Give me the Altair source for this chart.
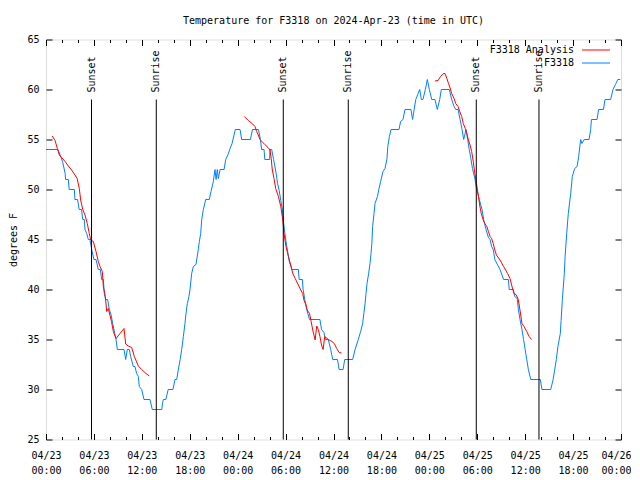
import json
import altair as alt
import pandas as pd

# ---------------- data ----------------
blue_hours = [0.0, 1.5, 1.85, 2.1, 2.4, 2.45, 2.8, 2.9, 3.55, 3.62, 3.95, 4.15, 4.45, 4.6, 4.8, 4.88, 5.1, 5.3, 5.5, 5.72,
              6.0, 6.26, 6.55, 6.8, 6.97, 7.18, 7.3, 7.47, 7.72, 7.93, 8.14, 8.35, 8.64, 8.77, 8.93, 9.77, 9.98, 10.18, 10.43, 10.6,
              10.93, 11.14, 11.35, 11.56, 11.68, 11.98, 12.27, 13.02, 13.31, 14.5, 14.6, 14.7, 15.0, 15.3, 15.9, 16.15, 16.37, 16.57, 16.8, 16.99,
              17.2, 17.4, 17.53, 17.7, 17.9, 18.03, 18.24, 18.45, 18.78, 19.07, 19.2, 19.37, 19.5, 19.7, 20.0, 20.45, 20.66, 20.95, 21.16, 21.3,
              21.45, 21.58, 21.8, 22.3, 22.5, 22.8, 23.0, 23.3, 23.7, 24.3, 24.5, 25.6, 25.85, 26.6, 26.85, 27.0, 27.3, 27.4, 28.0, 28.05,
              28.26, 28.5, 28.8, 29.0, 29.2, 29.4, 29.6, 29.7, 29.9, 30.05, 30.26, 30.47, 30.8, 31.6, 31.7, 32.1, 32.2, 32.4, 32.65, 33.0,
              34.3, 34.5, 34.8, 35.0, 35.35, 35.65, 35.9, 36.5, 36.7, 37.2, 37.4, 38.4, 38.7, 39.1, 39.4, 39.65, 39.8, 39.95, 40.07, 40.2,
              40.4, 40.57, 40.7, 40.8, 40.9, 41.07, 41.2, 41.5, 41.7, 41.9, 42.2, 42.45, 42.7, 42.8, 43.0, 43.2, 44.2, 44.4, 44.7, 44.95,
              45.7, 45.9, 46.1, 46.3, 46.6, 46.8, 47.0, 47.2, 47.5, 47.75, 48.0, 48.3, 48.7, 49.0, 49.3, 49.5, 50.5, 50.8, 51.1, 51.3,
              51.6, 51.85, 52.1, 52.3, 52.6, 52.8, 53.0, 53.2, 53.4, 53.7, 53.9, 54.26, 54.6, 54.8, 55.1, 55.4, 55.6, 55.8, 56.0, 56.2,
              56.85, 57.3, 57.9, 58.0, 58.5, 58.7, 59.0, 59.15, 59.35, 59.6, 59.8, 60.0, 60.2, 60.4, 60.7, 61.9, 62.1, 63.2, 63.5, 63.7,
              63.9, 64.1, 64.4, 64.5, 64.65, 64.9, 65.0, 65.2, 65.4, 65.7, 65.9, 66.2, 66.5, 66.7, 66.95, 67.1, 67.4, 68.0, 68.2, 68.3,
              69.0, 69.2, 69.8, 70.0, 70.7, 71.0, 71.3, 71.6, 71.9]
blue_temps = [54, 54, 53.3, 52.7, 51.6, 51, 51, 50, 50, 49, 49, 48, 48, 47, 47, 46, 45.6, 45, 45, 44,
              43, 43, 42, 42, 41, 41, 39.6, 39, 39, 38, 37.5, 36.6, 35.5, 35, 34, 34, 33, 34, 34, 33.3,
              32.3, 32.3, 31.6, 31.3, 30.3, 30, 29, 29, 28, 28, 28.7, 29, 29, 30, 30, 31, 31, 32, 33, 34,
              35.3, 36.6, 37.6, 38.6, 39.3, 40, 41.6, 42.3, 42.5, 44, 44.8, 45.6, 47, 48, 49, 49, 49.8, 50.8, 52, 51,
              52, 51.1, 52, 52, 53, 53.5, 54, 54.6, 56, 56, 55, 55, 56, 56, 55, 54, 54, 53, 53, 54,
              54, 53, 51.7, 50.6, 49.9, 48.9, 48, 47, 45.7, 44.8, 43.8, 42.8, 42, 42, 41, 41, 40, 39, 38, 37,
              37, 36, 35.7, 35, 35, 34, 33, 33, 32, 32, 33, 33, 34, 35, 35.8, 36.6, 37.6, 38.6, 39.6, 40.6,
              41.6, 42.6, 43.6, 44.6, 46.3, 47.6, 48.6, 49.3, 50.1, 50.8, 51.8, 52.1, 53.1, 54.3, 55.3, 56, 56, 56.8, 57, 58,
              58, 57, 58, 59, 59.6, 60, 59, 59, 60, 61, 60, 59, 59, 58, 59, 60, 60, 59, 58.3, 58,
              58, 57, 56, 55, 56, 55, 54, 53.1, 52.1, 51.1, 50.1, 49, 48, 47, 46, 45.2, 45, 44.3, 44, 43,
              42, 41, 41, 40, 40, 39.3, 39.1, 38, 37, 36, 35, 34, 33, 32, 31, 31, 30, 30, 31, 32,
              33, 34.3, 35.6, 36.9, 38.9, 41.6, 43.3, 45.6, 47.6, 49.6, 51.3, 52.1, 52.3, 53.3, 55, 54.6, 55, 55, 56, 57,
              57, 58, 58, 59, 59, 60, 60.5, 61, 61]

red1_hours = [0.79, 1.13, 1.42, 1.67, 1.96, 2.38, 2.8, 3.2, 3.63, 3.9, 4.17, 4.34, 4.6, 4.88, 5.17, 5.42, 5.6, 5.93, 6.26, 6.55,
              6.76, 7.05, 7.18, 7.43, 7.6, 7.8, 8.0, 8.2, 8.43, 8.77, 9.27, 9.77, 9.98, 10.3, 10.73, 11.06, 11.56, 11.98, 12.52, 12.94]
red1_temps = [55.35, 54.9, 54.1, 53.45, 53.2, 52.8, 52.35, 51.95, 51.45, 51.1, 50.1, 48.95, 48.0, 47.45, 46.6, 45.6, 44.95, 44.8, 43.8, 42.8,
              42.3, 41.8, 40.3, 39.3, 37.8, 38.1, 37.45, 36.8, 35.8, 35.1, 35.6, 36.1, 34.55, 34.35, 34.2, 33.3, 32.35, 32.0, 31.6, 31.35]
red2_hours = [24.83, 25.33, 25.88, 26.17, 26.38, 26.58, 26.8, 27.4, 27.8, 28.05, 28.2, 28.34, 28.55, 28.76, 29.1, 29.4, 29.65, 29.8, 30.05, 30.35,
              30.64, 30.9, 31.2, 31.6, 31.9, 32.14, 32.3, 32.56, 32.7, 33.0, 33.2, 33.4, 33.7, 33.9, 34.1, 34.3, 34.5, 34.7, 34.9, 35.35,
              35.8, 36.1, 36.4, 36.7, 37.0]
red2_temps = [57.3, 56.9, 56.55, 56.3, 55.8, 55.45, 55.0, 54.5, 54.2, 53.95, 53.1, 51.95, 51.1, 50.1, 49.3, 48.3, 46.95, 45.6, 44.3, 43.3,
              42.45, 41.6, 41.1, 40.45, 39.95, 39.6, 38.95, 38.45, 37.95, 37.6, 36.8, 35.95, 34.95, 36.35, 36.0, 35.3, 34.45, 34.0, 35.3, 35.0,
              34.8, 34.6, 34.1, 33.7, 33.65]
red3_hours = [48.7, 49.1, 49.4, 49.75, 49.96, 50.2, 50.4, 50.6, 50.8, 51.1, 51.3, 51.6, 51.8, 52.05, 52.25, 52.5, 52.7, 52.9, 53.1, 53.3,
              53.5, 53.7, 53.9, 54.1, 54.3, 54.5, 54.75, 54.95, 55.2, 55.4, 55.6, 55.8, 56.0, 56.2, 56.4, 56.85, 57.3, 57.8, 58.1, 58.3,
              58.6, 58.9, 59.15, 59.35, 59.6, 59.85, 60.2, 60.5, 60.8]
red3_temps = [60.85, 60.9, 61.3, 61.6, 61.6, 61.1, 60.6, 60.15, 59.6, 59.1, 58.6, 58.3, 57.8, 57.3, 56.6, 56.1, 55.6, 54.95, 54.45, 53.8,
              52.8, 51.6, 50.6, 49.6, 48.45, 47.6, 46.95, 46.6, 46.3, 45.8, 45.3, 45.1, 44.6, 43.95, 43.45, 42.95, 42.3, 41.6, 41.1, 40.45,
              39.6, 39.45, 38.95, 37.95, 36.6, 36.3, 35.8, 35.3, 35.0]

sun_hours = [5.7, 13.81, 29.71, 37.85, 53.88, 61.73]
sun_labels = ["Sunset", "Sunrise", "Sunset", "Sunrise", "Sunset", "Sunrise"]

tick_hours = [0, 6, 12, 18, 24, 30, 36, 42, 48, 54, 60, 66, 72]
tick_days = ["04/23", "04/23", "04/23", "04/23", "04/24", "04/24", "04/24", "04/24",
             "04/25", "04/25", "04/25", "04/25", "04/26"]
tick_times = ["00:00", "06:00", "12:00", "18:00"] * 3 + ["00:00"]
minor_hours = [h for h in range(0, 73, 2) if h % 6 != 0]
y_ticks = [25, 30, 35, 40, 45, 50, 55, 60, 65]

TITLE = "Temperature for F3318 on 2024-Apr-23 (time in UTC)"
RED = "#ff0000"
BLUE = "#0080ff"
FONT = "DejaVu Sans Mono"
FS = 10
MAJ = 6
MIN = 3

# ---------------- frames ----------------
blue_df = pd.DataFrame({"h": blue_hours, "t": blue_temps})
red_df = pd.concat([
    pd.DataFrame({"h": red1_hours, "t": red1_temps, "seg": "a"}),
    pd.DataFrame({"h": red2_hours, "t": red2_temps, "seg": "b"}),
    pd.DataFrame({"h": red3_hours, "t": red3_temps, "seg": "c"}),
])
sun_df = pd.DataFrame({"h": sun_hours, "label": sun_labels, "y0": 25, "y1": 59, "ylab": 59.7})

xs = alt.Scale(domain=[0, 72], nice=False, zero=False)
ys = alt.Scale(domain=[25, 65], nice=False, zero=False)

idx = "round(datum.value/6)"
label_expr = f"[{json.dumps(tick_days)}[{idx}], {json.dumps(tick_times)}[{idx}]]"


def tick_axis(orient, values, size):
    return alt.Axis(orient=orient, values=values, labels=False, domain=False, grid=False,
                    ticks=True, tickSize=size, offset=-size, tickColor="black", title=None)


x_label_axis = alt.Axis(orient="bottom", values=tick_hours, labelExpr=label_expr, ticks=False, tickSize=0,
                        domain=False, grid=False, labelPadding=11, labelFont=FONT, labelFontSize=FS,
                        labelColor="black", labelLineHeight=15, labelBaseline="top", title=None,
                        labelFlush=False, labelOverlap=False,
                        labelOffset=alt.condition("datum.value >= 72", alt.value(-5), alt.value(0)))
y_label_axis = alt.Axis(orient="left", values=y_ticks, ticks=False, tickSize=0, domain=False, grid=False,
                        labelPadding=7, labelFont=FONT, labelFontSize=FS, labelColor="black",
                        title="degrees F", titleFont=FONT, titleFontSize=FS, titleFontWeight="normal",
                        titleColor="black", titlePadding=8, labelFlush=False)

blue = alt.Chart(blue_df).mark_line(color=BLUE, strokeWidth=1).encode(
    x=alt.X("h:Q", scale=xs, axis=x_label_axis),
    y=alt.Y("t:Q", scale=ys, axis=y_label_axis),
)
red = alt.Chart(red_df).mark_line(color=RED, strokeWidth=1).encode(
    x=alt.X("h:Q", scale=xs, axis=tick_axis("bottom", tick_hours, MAJ)),
    y=alt.Y("t:Q", scale=ys, axis=tick_axis("left", y_ticks, MAJ)),
    detail="seg:N",
)
rules = alt.Chart(sun_df).mark_rule(color="black", strokeWidth=1).encode(
    x=alt.X("h:Q", scale=xs, axis=tick_axis("top", tick_hours, MAJ)),
    y=alt.Y("y0:Q", scale=ys, axis=tick_axis("right", y_ticks, MAJ)),
    y2="y1:Q",
)
sun_text = alt.Chart(sun_df).mark_text(angle=270, align="left", baseline="middle", font=FONT,
                                       fontSize=FS, color="black").encode(
    x=alt.X("h:Q", scale=xs, axis=tick_axis("bottom", minor_hours, MIN)),
    y=alt.Y("ylab:Q", scale=ys, axis=None),
    text="label:N",
)
ghost = alt.Chart(sun_df).mark_point(opacity=0).encode(
    x=alt.X("h:Q", scale=xs, axis=tick_axis("top", minor_hours, MIN)),
    y=alt.Y("ylab:Q", scale=ys, axis=None),
)

leg_df = pd.DataFrame({"name": ["F3318 Analysis", "F3318"], "col": [RED, BLUE], "py": [10.5, 23.5]})
leg_text = alt.Chart(leg_df).mark_text(align="right", baseline="middle", font=FONT, fontSize=FS,
                                       color="black").encode(
    x=alt.value(528), y=alt.Y("py:Q", scale=None), text="name:N")
leg_lines = alt.Chart(leg_df).mark_rule(strokeWidth=1).encode(
    x=alt.value(536), x2=alt.value(564), y=alt.Y("py:Q", scale=None),
    color=alt.Color("col:N", scale=None))

chart = alt.layer(blue, red, rules, sun_text, ghost, leg_lines, leg_text).resolve_axis(
    x="independent", y="independent"
).properties(
    width=575, height=400,
    title=alt.Title(TITLE, font=FONT, fontSize=FS, fontWeight="normal", color="black", offset=9),
    autosize=alt.AutoSizeParams(type="none"),
    padding={"left": 38, "top": 31.5, "right": 10, "bottom": 40},
).configure_view(stroke="black", strokeWidth=1).configure(background="white")

chart.save("out.html", embed_options={"renderer": "svg", "actions": False})
